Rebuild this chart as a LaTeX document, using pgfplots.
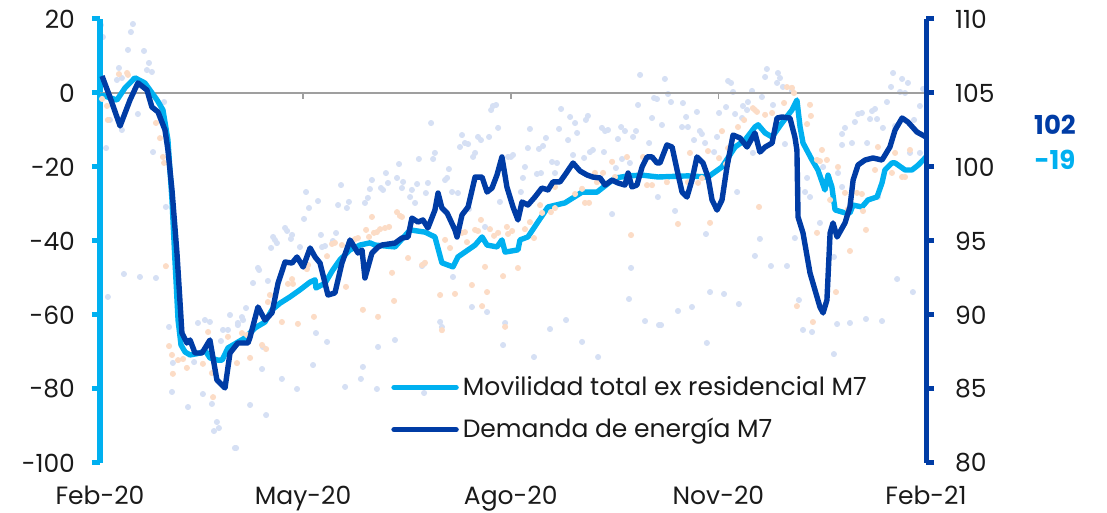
\documentclass[border=0pt]{standalone}
\usepackage{pgfplots}
\pgfplotsset{compat=1.18}
\usepackage{fontspec}
\setmainfont{Poppins}
\definecolor{lb}{RGB}{0,176,240}
\definecolor{db}{RGB}{0,60,165}
\definecolor{lav}{RGB}{214,224,244}
\definecolor{peach}{RGB}{252,220,198}
\definecolor{txt}{RGB}{26,26,26}
\pgfplotsset{base/.style={scale only axis, width=413pt, height=222pt, at={(0,0)}, anchor=south west,
  xmin=0, xmax=366, clip=false, /pgf/number format/assume math mode=true,
  tick label style={font=\fontsize{12.5}{14}\selectfont, text=txt}}}
\begin{document}
\begin{tikzpicture}
\useasboundingbox (-50pt,-25pt) rectangle (503.5pt,231.5pt);
% lavender daily dots (right scale)
\begin{axis}[base, ymin=80, ymax=110, hide axis]
\addplot[only marks, mark=*, mark size=1.3pt, color=lav, forget plot] coordinates {
(0.4,109.59) (1.3,108.78) (14.6,109.66) (13.7,109.12) (12.4,107.91) (19.5,107.84) (21.7,107.03) (20.8,106.55) (23.0,106.42) (8.4,106.69)
(7.5,105.88) (9.7,106.01) (4.4,103.18) (9.7,102.50) (16.8,103.58) (2.7,101.28) (23.5,101.01) (28.4,104.39) (29.2,97.30) (10.6,92.77)
(17.7,92.57) (24.8,92.50) (3.5,91.22) (30.6,89.19) (32.3,86.76) (31.9,84.80) (39.0,83.78) (43.4,89.46) (46.5,89.66) (48.7,89.53)
(57.6,90.00) (54.5,88.99) (56.7,88.99) (41.7,86.82) (45.6,84.66) (49.6,83.99) (51.8,82.77) (50.5,82.16) (52.7,82.36) (59.8,81.01)
(53.6,88.24) (61.1,89.46) (91.3,98.31) (92.6,97.23) (96.6,97.70) (90.4,96.49) (106.8,98.78) (105.5,97.43) (110.3,97.64) (109.4,97.23)
(120.5,99.12) (119.6,98.51) (118.7,97.91) (117.4,97.57) (82.0,95.88) (82.9,95.68) (85.1,95.41) (84.6,95.14) (76.7,95.27) (77.5,95.07)
(78.4,94.86) (75.8,94.53) (97.9,95.41) (98.4,94.59) (99.7,94.66) (104.6,95.54) (103.2,95.00) (88.6,94.59) (70.0,93.18) (70.5,93.04)
(67.8,92.16) (74.4,92.30) (64.7,90.47) (62.9,89.86) (63.4,89.66) (61.1,89.32) (95.7,88.78) (100.6,88.18) (72.2,87.84) (71.8,86.35)
(94.4,86.62) (80.6,85.68) (87.3,85.00) (108.6,85.14) (115.6,85.68) (116.5,86.49) (122.7,85.00) (66.5,83.92) (73.6,83.24) (60.3,81.01)
(123.2,87.84) (146.7,102.97) (160.4,102.16) (161.7,101.62) (163.1,101.55) (159.5,101.35) (167.5,102.03) (168.8,101.82) (172.4,102.03) (176.4,102.64)
(173.3,103.85) (174.1,104.12) (175.5,104.19) (166.2,100.95) (165.3,100.68) (180.8,100.68) (182.1,100.68) (183.0,100.81) (148.4,100.95) (147.6,100.54)
(141.3,100.54) (132.5,100.20) (126.7,99.59) (131.6,99.26) (134.3,98.99) (127.6,98.92) (124.5,98.58) (125.4,98.45) (133.8,98.58) (138.2,98.45)
(140.5,98.85) (137.4,97.97) (144.4,98.24) (145.3,98.92) (152.9,99.12) (153.8,99.26) (154.6,99.86) (156.0,98.31) (158.6,98.24) (139.6,97.57)
(163.5,97.16) (177.2,97.64) (170.6,95.95) (142.7,93.31) (143.6,93.45) (156.4,92.57) (164.8,90.54) (171.5,90.20) (150.7,89.53) (151.5,89.19)
(179.5,89.46) (178.6,87.97) (130.7,88.31) (143.6,84.73) (239.3,106.22) (245.5,104.66) (246.8,104.59) (238.4,104.19) (244.6,103.31) (204.3,103.92)
(208.3,103.38) (210.5,102.97) (215.3,103.18) (216.2,103.45) (211.4,102.30) (203.4,102.57) (190.5,102.57) (222.4,102.64) (223.8,102.43) (225.1,102.50)
(230.9,102.70) (232.6,102.43) (237.5,102.43) (236.2,102.03) (229.5,101.89) (207.4,101.82) (197.6,101.96) (196.3,101.42) (194.5,101.22) (189.6,101.28)
(243.3,101.62) (223.3,101.01) (218.4,101.15) (217.1,101.01) (209.6,100.81) (214.5,100.61) (200.3,100.34) (202.5,100.27) (231.3,100.54) (234.8,100.27)
(188.3,100.00) (193.6,99.53) (195.4,99.59) (201.6,99.59) (228.6,99.93) (187.4,99.26) (186.5,98.31) (226.9,96.82) (247.2,97.97) (235.3,93.18)
(234.4,91.08) (206.5,89.66) (199.4,89.05) (213.6,88.18) (220.7,87.16) (192.3,87.16) (241.5,89.59) (247.7,89.32) (250.3,105.95) (251.7,104.93)
(253.0,104.39) (278.3,105.81) (279.6,105.68) (280.5,105.07) (288.9,105.14) (294.7,106.08) (295.5,106.62) (300.4,106.35) (301.3,106.01) (300.0,105.68)
(302.6,105.41) (306.6,105.14) (293.3,104.73) (258.3,104.32) (277.4,104.05) (284.9,104.12) (287.1,104.39) (286.7,103.85) (264.5,103.72) (274.3,103.65)
(281.4,103.58) (284.5,103.31) (298.2,104.19) (303.5,101.55) (259.7,103.38) (249.0,102.84) (257.9,102.70) (260.5,102.70) (265.8,102.43) (266.7,102.23)
(263.2,101.82) (268.1,101.62) (273.4,102.03) (272.1,101.01) (289.3,100.95) (254.8,97.03) (282.3,98.31) (268.5,95.47) (292.4,95.14) (290.2,93.99)
(297.3,93.31) (304.4,93.31) (307.9,95.20) (270.3,91.55) (276.5,91.42) (283.1,90.74) (262.3,90.54) (256.1,90.27) (248.6,89.32) (268.9,88.11)
(351.4,106.35) (355.4,105.95) (358.0,105.68) (350.5,105.41) (354.5,105.07) (356.7,105.00) (364.7,105.27) (348.7,104.39) (363.3,104.12) (335.9,103.58)
(337.6,103.65) (343.4,103.92) (342.1,103.78) (334.5,103.04) (330.1,102.64) (328.8,102.23) (341.2,103.24) (344.3,103.24) (346.9,102.64) (360.7,103.18)
(328.8,101.49) (333.2,101.62) (339.9,101.62) (352.3,102.77) (358.9,100.95) (363.3,100.95) (344.7,97.97) (313.3,99.26) (320.4,100.00) (327.0,99.59)
(312.4,98.31) (314.6,97.97) (319.0,96.22) (328.8,98.65) (325.2,93.92) (353.2,92.43) (360.2,91.55) (309.7,91.01) (311.5,88.99) (315.5,88.85)
(326.6,89.39) (332.3,89.46) (339.4,89.73) (346.5,89.59) (325.2,87.36)
};
\end{axis}
% left axis: mobility
\begin{axis}[base, ymin=-100, ymax=20, ytick={-100,-80,...,20},
  axis y line*=left, axis x line*=bottom,
  x axis line style={draw=none}, xtick style={draw=none},
  y axis line style={lb, line width=2.5pt, -},
  ytick style={lb, line width=2.5pt}, tick align=outside, major tick length=4pt,
  yticklabel={\pgfmathprintnumber{\tick}\hspace*{5pt}},
  xtick={0,90,182,274,366}, xticklabels={Feb-20,May-20,\raisebox{2pt}{Ago-20},Nov-20,Feb-21},
  xticklabel style={yshift=-4pt},
  legend style={draw=none, fill=none, at={(0.345,0.214)}, anchor=north west,
    font=\fontsize{12.5}{15}\selectfont, text=txt, row sep=6pt},
  legend cell align=left,
  legend image code/.code={\draw[#1, line cap=round] (0pt,0pt) -- (31pt,0pt);}]
\draw[gray!75, line width=0.75pt] (axis cs:0,0) -- (axis cs:366,0);
\pgfplotsinvokeforeach{90,182,274}{\draw[gray!75, line width=0.75pt] (axis cs:#1,0) -- (axis cs:#1,-1.6);}
\addplot[only marks, mark=*, mark size=1.3pt, color=peach, forget plot] coordinates {
(8.4,5.1) (12.0,5.4) (12.4,4.9) (0.9,-1.6) (3.1,-3.5) (3.5,-7.3) (24.8,-8.1) (26.6,-12.2) (27.9,-17.3) (28.4,-18.9)
(29.2,-46.8) (30.6,-68.4) (31.9,-70.8) (34.6,-72.2) (32.3,-75.9) (38.5,-74.3) (36.8,-71.9) (45.6,-73.2) (47.9,-64.6) (50.1,-82.2)
(49.6,-75.7) (56.7,-65.9) (66.5,-71.6) (60.7,-73.0) (73.6,-69.2) (71.8,-68.1) (80.6,-61.9) (87.7,-62.4) (94.8,-60.5) (116.5,-58.6)
(123.2,-60.5) (109.0,-52.4) (74.4,-56.5) (75.3,-54.6) (83.3,-51.6) (85.5,-51.6) (85.1,-50.3) (91.7,-47.6) (92.2,-46.5) (100.6,-44.1)
(102.8,-40.8) (104.1,-40.5) (107.2,-41.1) (113.0,-39.5) (114.3,-39.2) (117.9,-37.0) (119.2,-38.9) (120.5,-33.5) (121.4,-37.8) (65.1,-65.4)
(62.9,-64.9) (131.6,-32.2) (132.9,-33.2) (133.8,-33.5) (122.7,-37.6) (124.1,-36.8) (126.3,-36.5) (128.1,-36.2) (136.5,-44.6) (129.4,-48.6)
(142.7,-46.5) (144.0,-45.9) (152.9,-39.7) (155.1,-41.9) (160.4,-37.8) (161.7,-37.6) (162.6,-40.3) (166.2,-37.0) (167.5,-37.3) (172.8,-36.8)
(174.6,-38.6) (176.4,-37.8) (180.3,-36.2) (180.8,-38.1) (182.6,-37.3) (168.8,-34.3) (170.6,-47.0) (178.6,-49.5) (164.8,-51.9) (150.7,-54.6)
(157.3,-54.3) (171.5,-53.8) (169.3,-57.6) (130.3,-56.2) (151.5,-64.1) (179.5,-63.2) (226.9,-18.6) (233.5,-17.3) (185.2,-47.3) (235.3,-38.4)
(192.3,-39.2) (188.3,-36.8) (190.5,-34.9) (195.0,-30.3) (195.9,-32.4) (199.8,-32.2) (201.6,-31.1) (210.5,-27.3) (213.6,-25.9) (214.9,-29.7)
(216.7,-29.7) (219.3,-21.6) (220.2,-24.1) (222.9,-21.6) (228.2,-22.7) (240.6,-17.3) (242.4,-24.9) (244.6,-24.9) (201.6,-25.4) (256.1,-35.4)
(270.3,-35.1) (275.6,-10.3) (261.4,-16.2) (269.4,-15.7) (274.3,-17.6) (277.4,-19.2) (278.3,-14.9) (285.4,-7.3) (289.3,-4.1) (290.2,-4.6)
(291.1,-5.1) (294.7,-5.9) (297.8,-5.4) (303.1,-2.7) (304.4,1.6) (306.6,1.4) (307.5,0.0) (282.7,-9.2) (292.0,-30.8) (308.8,-57.6)
(251.2,-24.1) (265.0,-24.3) (260.5,-24.1) (266.7,-23.0) (314.6,-3.2) (315.0,-6.2) (313.3,-8.4) (319.9,-15.4) (319.0,-18.4) (322.1,-18.1)
(317.7,-18.1) (327.0,-20.0) (323.5,-28.9) (330.1,-27.0) (335.4,-27.0) (337.6,-27.3) (331.4,-31.4) (338.1,-31.9) (339.4,-37.0) (332.3,-42.7)
(326.1,-53.8) (317.7,-37.8) (315.9,-61.9) (344.7,-14.6) (352.3,-16.2) (358.9,-15.4) (350.9,-21.6) (355.4,-22.7) (356.7,-22.7) (343.4,-20.8)
};
\addplot[lb, line width=2.7pt, line join=round] coordinates {
(0,-0.5) (3,-1) (7.5,-1.9) (11.1,1.4) (15.5,4.1) (19.9,2.7) (25.3,-1.9) (27.9,-4.6) (30.1,-12.7) (31.9,-28.9)
(33.2,-45.1) (34.6,-61.4) (35.9,-68.1) (37.7,-70.0) (39.9,-70.8) (44.3,-70.3) (46.5,-69.5) (48.7,-71.6) (52.3,-72.2) (54.1,-72.2)
(56.7,-68.9) (59.8,-67.8) (64.2,-66.2) (68.7,-63.5) (73.1,-61.9) (76.2,-58.6) (79.8,-56.8) (84.2,-55.1) (88.6,-53.2) (93.1,-51.1)
(95.3,-50.5) (95.7,-52.7) (99.7,-51.4) (103.2,-47.8) (106.3,-45.1) (110.8,-42.4) (115.2,-41.1) (119.6,-40.5) (121.9,-41.1) (130.7,-41.6)
(137.4,-37.0) (144.0,-37.6) (148.4,-38.9) (151.5,-45.9) (156.4,-47.0) (158.6,-44.3) (166.2,-41.1) (169.3,-38.9) (171.5,-41.1) (175.9,-41.6)
(178.1,-39.7) (179.5,-43.0) (185.2,-42.4) (186.1,-39.7) (189.6,-38.9) (198.5,-30.8) (206.0,-29.7) (213.6,-26.8) (220.2,-26.8) (228.2,-23.0)
(234.0,-22.4) (240.2,-22.2) (247.3,-22.7) (260.5,-22.4) (269.4,-22.7) (275.6,-20.0) (281.4,-14.6) (285.8,-12.7) (290.2,-9.2) (291.6,-8.6)
(294.7,-10.8) (297.8,-11.9) (302.2,-8.1) (306.6,-4.6) (308.8,-1.9) (310.2,-9.2) (311.5,-13.5) (315.5,-18.1) (318.1,-20.8) (321.2,-26.2)
(322.6,-22.2) (324.3,-25.4) (325.7,-31.6) (330.1,-32.4) (332.3,-32.4) (333.7,-30.3) (337.6,-30.8) (340.3,-28.9) (344.3,-28.1) (346.5,-24.3)
(347.8,-20.8) (350.9,-18.9) (352.3,-18.9) (356.7,-20.8) (359.8,-20.8) (362.5,-19.5) (366,-17.3)
};
\addlegendentry{Movilidad total ex residencial M7}
\addlegendimage{db, line width=2.7pt}
\addlegendentry{Demanda de energía M7}
\end{axis}
% right axis: energy demand
\begin{axis}[base, ymin=80, ymax=110, ytick={80,85,...,110},
  axis y line*=right, axis x line=none,
  y axis line style={db, line width=2.5pt, -},
  ytick style={db, line width=2.5pt}, tick align=outside, major tick length=4pt,
  yticklabel={\hspace*{7pt}\pgfmathprintnumber{\tick}}]
\addplot[db, line width=2.7pt, line join=round] coordinates {
(0.9,106.15) (4.4,104.73) (8.9,102.77) (13.3,104.53) (16.8,105.68) (20.8,105.20) (23.0,104.05) (25.7,103.72) (28.8,102.50) (30.1,101.15)
(31.9,98.45) (34.1,94.19) (35.4,91.01) (36.3,88.78) (38.5,88.11) (39.9,88.31) (42.1,87.43) (45.2,87.43) (48.7,88.31) (51.8,85.61)
(55.4,85.07) (57.6,87.43) (61.1,88.11) (65.6,88.11) (66.5,88.51) (70.0,90.54) (73.1,89.66) (76.2,90.14) (78.9,92.16) (82.0,93.58)
(85.1,93.51) (87.3,93.92) (90.0,93.24) (93.1,94.53) (95.3,93.92) (97.5,93.51) (101.0,91.35) (104.1,91.49) (107.2,93.51) (110.8,95.07)
(114.3,94.19) (116.1,94.39) (117.4,92.50) (120.5,94.19) (123.2,94.59) (125.0,94.73) (130.7,94.86) (133.8,95.20) (136.5,95.27) (138.2,96.55)
(140.9,96.28) (143.1,96.42) (145.3,95.88) (148.4,97.09) (149.8,98.24) (151.5,97.23) (153.8,96.89) (157.3,95.74) (158.2,95.27) (160.4,96.76)
(163.1,97.30) (166.2,99.32) (169.3,99.32) (171.5,98.31) (173.7,98.58) (175.9,99.46) (178.1,100.68) (180.3,98.65) (183.0,97.30) (185.2,96.42)
(187.0,97.64) (189.6,97.43) (192.7,97.97) (195.8,98.58) (198.5,98.45) (200.7,98.99) (203.8,98.99) (206.0,99.46) (209.6,100.27) (212.7,99.73)
(215.8,99.46) (218.4,99.32) (221.6,99.26) (223.8,98.78) (226.9,99.12) (229.5,98.92) (232.6,98.78) (234.0,99.59) (235.7,98.65) (237.9,98.78)
(240.2,100.00) (242.4,100.68) (244.6,100.68) (246.8,100.27) (248.1,100.27) (251.2,101.49) (253.5,101.35) (255.7,99.80) (257.9,98.31) (260.1,97.97)
(262.3,99.12) (264.5,100.68) (267.2,100.27) (269.4,99.32) (271.2,97.77) (273.4,97.09) (275.6,97.77) (277.8,100.00) (280.5,102.16) (283.6,101.96)
(286.7,101.35) (290.2,102.30) (292.4,101.01) (294.7,101.35) (297.8,101.62) (300.0,103.31) (302.2,103.38) (305.7,103.31) (307.9,102.03) (308.8,101.15)
(309.3,96.62) (311.5,95.54) (314.6,92.84) (316.8,91.69) (319.0,90.54) (320.4,90.14) (322.1,91.01) (323.5,95.54) (324.8,96.22) (326.6,95.27)
(330.1,96.22) (332.3,97.30) (333.7,99.12) (335.9,100.14) (339.0,100.47) (342.5,100.61) (346.5,100.47) (350.0,101.35) (352.3,102.50) (355.4,103.31)
(358.0,103.04) (362.0,102.36) (366,102.03)
};
\end{axis}
\node[text=db, font=\bfseries\fontsize{13}{15}\selectfont] at (477.5pt,169pt) {102};
\node[text=lb, font=\bfseries\fontsize{13}{15}\selectfont] at (477.5pt,151.5pt) {-19};
\end{tikzpicture}
\end{document}
